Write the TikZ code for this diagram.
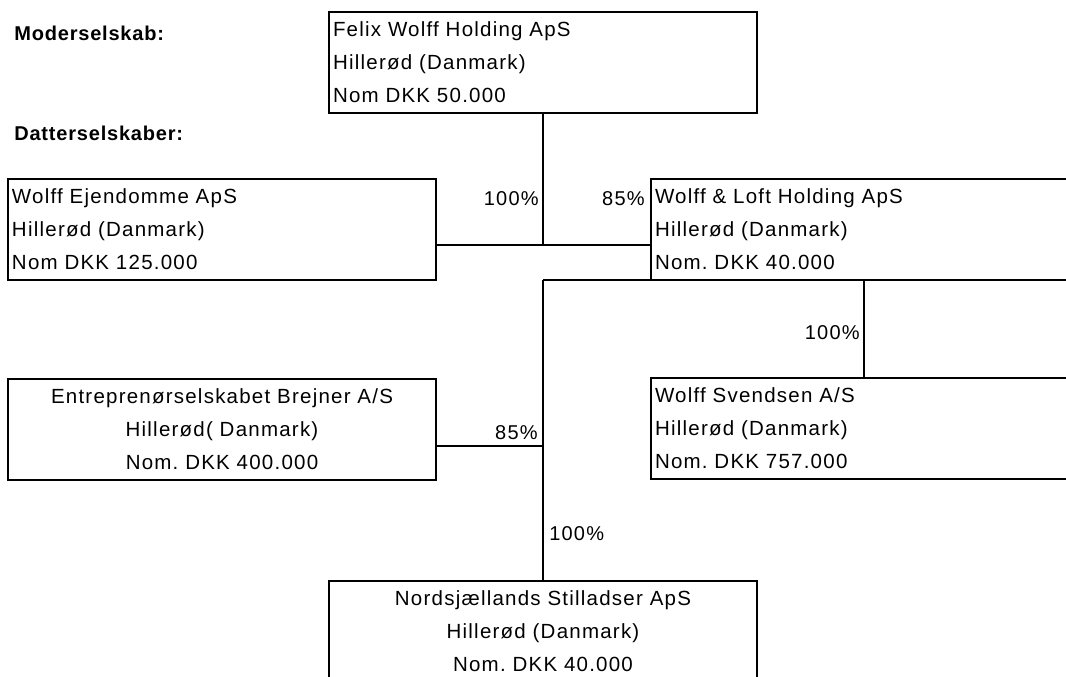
\documentclass[tikz,border=0pt]{standalone}
\usepackage{fontspec}
\setmainfont{Liberation Sans}[LetterSpace=6]
\frenchspacing
\usetikzlibrary{calc}
\begin{document}
\begin{tikzpicture}[x=1pt,y=-1pt, line width=2.7pt,
  box/.style={draw, line width=2.7pt, rectangle, minimum width=428pt, minimum height=101pt,
    inner xsep=4pt, inner ysep=0pt, outer sep=0pt, text width=420pt,
    font=\fontsize{20.5}{33}\selectfont, anchor=north west},
  lbox/.style={box, align=left},
  cbox/.style={box, align=center},
  pct/.style={font=\fontsize{20}{22}\selectfont, inner sep=0pt},
  hdr/.style={font=\bfseries\fontsize{20}{22}\selectfont\addfontfeatures{LetterSpace=4}, inner sep=0pt, anchor=west}]
\useasboundingbox (0,0) rectangle (1066,677);
\clip (0,0) rectangle (1066,677);
\fill[white] (0,0) rectangle (1066,677);

\node[hdr] (moder) at (13,33) {Moderselskab:};
\node[hdr] (datter) at (13,133) {Datterselskaber:};

\node[lbox] (felix) at (329,12) {Felix Wolff Holding ApS\\Hillerød (Danmark)\\Nom DKK 50.000};
\node[lbox] (ejend) at (8,179) {Wolff Ejendomme ApS\\Hillerød (Danmark)\\Nom DKK 125.000};
\node[lbox] (wl) at (651,179) {Wolff \& Loft Holding ApS\\Hillerød (Danmark)\\Nom. DKK 40.000};
\node[cbox] (entre) at (8,379) {Entreprenørselskabet Brejner A/S\\Hillerød( Danmark)\\Nom. DKK 400.000};
\node[lbox] (svend) at (651,378) {Wolff Svendsen A/S\\Hillerød (Danmark)\\Nom. DKK 757.000};
\node[cbox] (nord) at (329,581) {Nordsjællands Stilladser ApS\\Hillerød (Danmark)\\Nom. DKK 40.000};

\coordinate (j1) at (543,245);
\coordinate (j3) at (543,446);
\coordinate (j2) at (wl.south west -| j1);
\coordinate (j4) at (wl.south west -| 864,0);

\draw (felix.south -| j1) -- (j1);
\draw (ejend.east |- j1) -- (wl.west |- j1);
\draw (j2) -- (wl.south west);
\draw (j2) -- (nord.north -| j2);
\draw (entre.east |- j3) -- (j3);
\draw (j4) -- (svend.north -| j4);

\node[pct, anchor=east] (p1) at (540,199) {100\%};
\node[pct, anchor=east] (p2) at (646,199) {85\%};
\node[pct, anchor=east] (p3) at (861,333) {100\%};
\node[pct, anchor=east] (p4) at (539,433) {85\%};
\node[pct, anchor=west] (p5) at (548,534) {100\%};
\end{tikzpicture}
\end{document}
